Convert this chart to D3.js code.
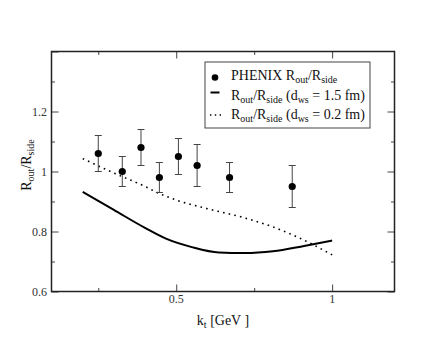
<!DOCTYPE html>
<html>
<head>
<meta charset="utf-8">
<script src="https://cdn.jsdelivr.net/npm/d3@7"></script>
<style>
  body { margin: 0; background: #fff; }
  svg text { font-family: 'Liberation Serif', 'Times New Roman', 'DejaVu Serif', serif; }
</style>
</head>
<body>
<div id="chart"></div>
<script>
// PHENIX data points
var phenixKt = [0.25, 0.327, 0.387, 0.446, 0.507, 0.567, 0.671, 0.872];
var phenixRatio = [1.06, 1.00, 1.08, 0.98, 1.05, 1.02, 0.98, 0.95];
var phenixErr = [0.06, 0.05, 0.06, 0.05, 0.06, 0.07, 0.05, 0.07];

// model curves
var solidKt = [0.2, 0.3, 0.4, 0.467, 0.55, 0.637, 0.72, 0.81, 0.91, 1.0];
var solidRatio = [0.932, 0.872, 0.812, 0.776, 0.748, 0.730, 0.728, 0.734, 0.752, 0.770];
var dottedKt = [0.2, 0.3, 0.4, 0.445, 0.5, 0.6, 0.717, 0.808, 0.92, 1.0];
var dottedRatio = [1.043, 0.995, 0.95, 0.927, 0.905, 0.876, 0.846, 0.816, 0.766, 0.722];

var xMajor = [0.5, 1];
var xMinor = [0.25, 0.75];
var yMajor = [0.6, 0.8, 1.0, 1.2];
var yMinor = [0.7, 0.9, 1.1, 1.3];

var W = 444, H = 343;
var L = 51.5, R = 394.5, T = 51.5, B = 291.5;
var serif = "'Liberation Serif', 'Times New Roman', 'DejaVu Serif', serif";

var svg = d3.select('#chart').append('svg').attr('width', W).attr('height', H)
  .attr('font-family', serif);

var x = d3.scaleLinear().domain([0.1, 1.2]).range([L, R]);
var y = d3.scaleLinear().domain([0.6, 1.4]).range([B, T]);

var axisColor = '#222';

// ticks (inward on all four sides)
function addAxis(axis, tx, ty, vals, len) {
  var g = svg.append('g').attr('transform', 'translate(' + tx + ',' + ty + ')')
    .call(axis.tickValues(vals).tickSize(len).tickFormat(''));
  g.select('.domain').remove();
  g.selectAll('line').attr('stroke', '#444').attr('stroke-width', 1);
  return g;
}
addAxis(d3.axisTop(x), 0, B, xMajor, 7);
addAxis(d3.axisTop(x), 0, B, xMinor, 3.5);
addAxis(d3.axisBottom(x), 0, T, xMajor, 7);
addAxis(d3.axisBottom(x), 0, T, xMinor, 3.5);
addAxis(d3.axisRight(y), L, 0, yMajor.concat([1.4]), 7);
addAxis(d3.axisRight(y), L, 0, yMinor, 3.5);
addAxis(d3.axisLeft(y), R, 0, yMajor, 7);
addAxis(d3.axisLeft(y), R, 0, yMinor, 3.5);

// frame
svg.append('rect').attr('x', L).attr('y', T).attr('width', R - L).attr('height', B - T)
  .attr('fill', 'none').attr('stroke', axisColor).attr('stroke-width', 1.5);

// tick labels
svg.selectAll('.xl').data(xMajor).enter().append('text')
  .attr('x', d => x(d)).attr('y', 303).attr('text-anchor', 'middle')
  .attr('font-family', serif)
  .attr('font-size', 12).attr('fill', '#333').text(d => d3.format('')(d));
svg.selectAll('.yl').data(yMajor).enter().append('text')
  .attr('x', 47).attr('y', d => y(d) + 4).attr('text-anchor', 'end')
  .attr('font-family', serif)
  .attr('font-size', 12).attr('fill', '#333').text(d => d === 1 ? '1' : d3.format('.1f')(d));

// axis titles
var xt = svg.append('text').attr('x', 223).attr('y', 325).attr('text-anchor', 'middle')
  .attr('font-family', serif).attr('font-size', 14).attr('fill', '#111');
xt.append('tspan').text('k');
xt.append('tspan').attr('dy', 3).attr('font-size', 10).text('t');
xt.append('tspan').attr('dy', -3).text(' [GeV ]');

var yt = svg.append('text').attr('transform', 'translate(31,165) rotate(-90)')
  .attr('font-family', serif)
  .attr('text-anchor', 'middle').attr('font-size', 14).attr('fill', '#111');
yt.append('tspan').text('R');
yt.append('tspan').attr('dy', 3).attr('font-size', 10).text('out');
yt.append('tspan').attr('dy', -3).text('/R');
yt.append('tspan').attr('dy', 3).attr('font-size', 10).text('side');

// curves
var line = d3.line().x(d => x(d[0])).y(d => y(d[1])).curve(d3.curveMonotoneX);
svg.append('path').datum(d3.zip(solidKt, solidRatio)).attr('d', line)
  .attr('fill', 'none').attr('stroke', '#000').attr('stroke-width', 2);
svg.append('path').datum(d3.zip(dottedKt, dottedRatio)).attr('d', line)
  .attr('fill', 'none').attr('stroke', '#000').attr('stroke-width', 1.6)
  .attr('stroke-dasharray', '1.6,4.2');

// error bars
var pts = phenixKt.map((k, i) => ({ k: k, v: phenixRatio[i], e: phenixErr[i] }));
var eb = svg.append('g').attr('stroke', '#444').attr('stroke-width', 1);
eb.selectAll('.v').data(pts).enter().append('line')
  .attr('x1', d => x(d.k)).attr('x2', d => x(d.k))
  .attr('y1', d => y(d.v - d.e)).attr('y2', d => y(d.v + d.e));
eb.selectAll('.t').data(pts).enter().append('line')
  .attr('x1', d => x(d.k) - 3.5).attr('x2', d => x(d.k) + 3.5)
  .attr('y1', d => y(d.v + d.e)).attr('y2', d => y(d.v + d.e));
eb.selectAll('.b').data(pts).enter().append('line')
  .attr('x1', d => x(d.k) - 3.5).attr('x2', d => x(d.k) + 3.5)
  .attr('y1', d => y(d.v - d.e)).attr('y2', d => y(d.v - d.e));
svg.selectAll('.pt').data(pts).enter().append('circle')
  .attr('cx', d => x(d.k)).attr('cy', d => y(d.v)).attr('r', 3.6).attr('fill', '#000');

// legend
var lg = svg.append('g');
lg.append('rect').attr('x', 205).attr('y', 62).attr('width', 165).attr('height', 66)
  .attr('fill', '#fff').attr('stroke', '#444').attr('stroke-width', 1);
lg.append('circle').attr('cx', 215).attr('cy', 77.5).attr('r', 3.3).attr('fill', '#000');
lg.append('line').attr('x1', 210.5).attr('x2', 219.5).attr('y1', 92.5).attr('y2', 92.5)
  .attr('stroke', '#000').attr('stroke-width', 2);
lg.append('line').attr('x1', 210).attr('x2', 222).attr('y1', 115).attr('y2', 115)
  .attr('stroke', '#000').attr('stroke-width', 1.4).attr('stroke-dasharray', '1.4,3.4');

function legText(yy, parts) {
  var t = lg.append('text').attr('x', 231).attr('y', yy).attr('font-family', serif)
    .attr('font-size', 14).attr('fill', '#111');
  parts.forEach(function (p) {
    var s = t.append('tspan').text(p[0]);
    if (p[1] === 'sub') s.attr('dy', 3).attr('font-size', 10);
    if (p[1] === 'up') s.attr('dy', -3);
  });
}
legText(80, [['PHENIX R'], ['out', 'sub'], ['/R', 'up'], ['side', 'sub']]);
legText(99.5, [['R'], ['out', 'sub'], ['/R', 'up'], ['side', 'sub'], [' (d', 'up'], ['ws', 'sub'], [' = 1.5 fm)', 'up']]);
legText(119, [['R'], ['out', 'sub'], ['/R', 'up'], ['side', 'sub'], [' (d', 'up'], ['ws', 'sub'], [' = 0.2 fm)', 'up']]);
</script>
</body>
</html>
